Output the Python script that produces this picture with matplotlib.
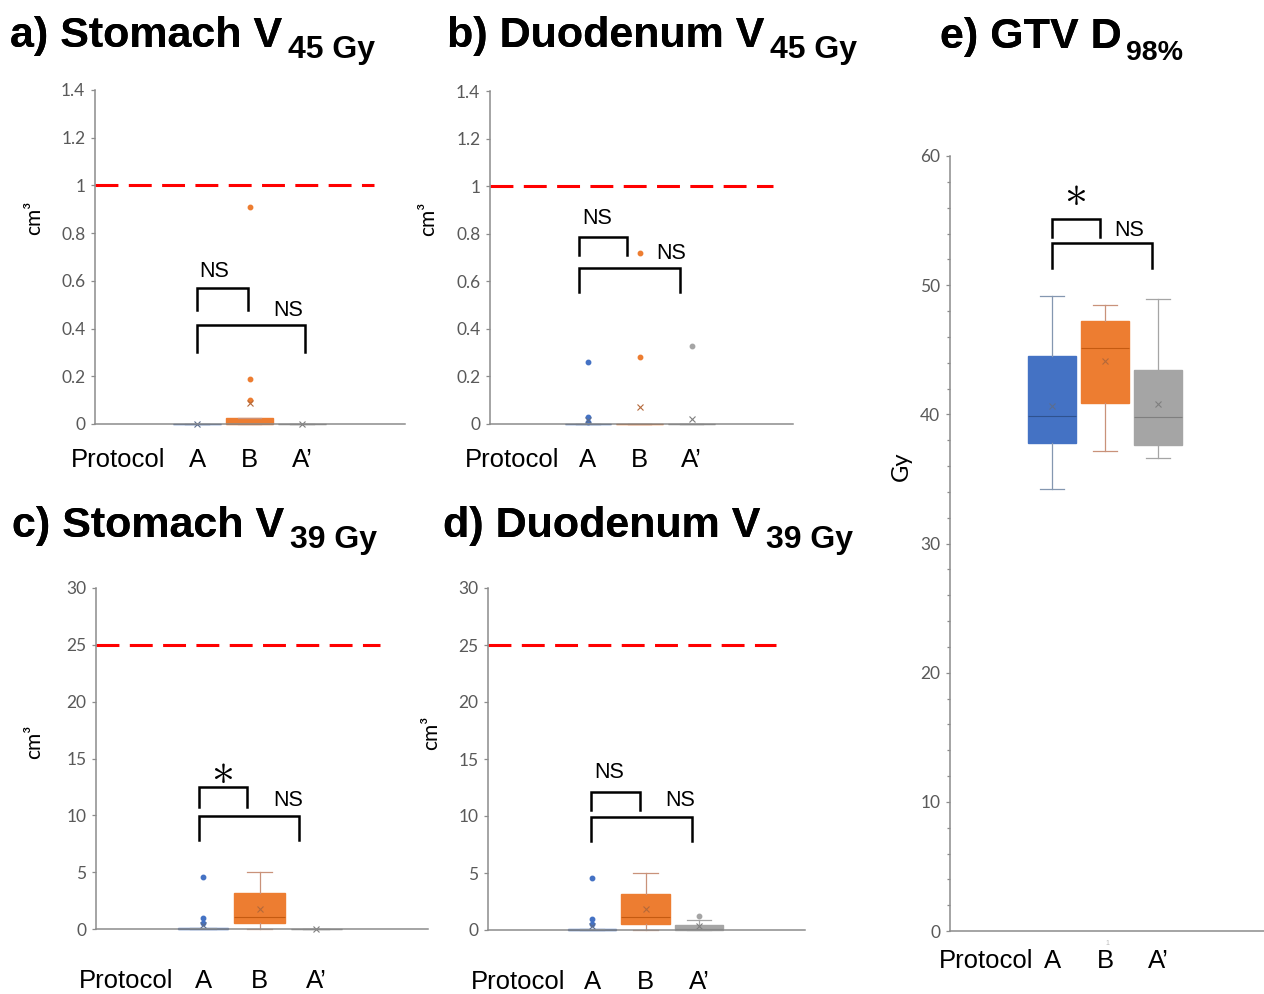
import matplotlib.pyplot as plt
from matplotlib.ticker import FuncFormatter, MultipleLocator

plt.rcParams["font.family"] = ["Liberation Sans", "DejaVu Sans"]

groups = ["A", "B", "A\u2019"]
box_colors = ["#4472C4", "#ED7D31", "#A5A5A5"]
whisker_colors = ["#8497B0", "#C9927A", "#A5A5A5"]
median_colors = ["#2F528F", "#C55A11", "#7F7F7F"]
mean_colors = ["#5B6D8E", "#B4693A", "#7F7F7F"]

# a) Stomach V45Gy (cm3)
a_lo = [0, 0, 0]
a_q1 = [0, 0, 0]
a_med = [0, 0, 0]
a_q3 = [0, 0.026, 0]
a_hi = [0, 0.026, 0]
a_mean = [0, 0.087, 0]
a_out = [[], [0.10, 0.19, 0.91], []]

# b) Duodenum V45Gy (cm3)
b_lo = [0, 0, 0]
b_q1 = [0, 0, 0]
b_med = [0, 0, 0]
b_q3 = [0, 0, 0]
b_hi = [0, 0, 0]
b_mean = [0.018, 0.071, 0.022]
b_out = [[0.008, 0.028, 0.26], [0.28, 0.72], [0.33]]

# c) Stomach V39Gy (cm3)
c_lo = [0, 0, 0]
c_q1 = [0, 0.5, 0]
c_med = [0, 1.07, 0]
c_q3 = [0.1, 3.2, 0]
c_hi = [0.1, 5.05, 0]
c_mean = [0.35, 1.8, 0]
c_out = [[0.55, 0.95, 4.57], [], []]

# d) Duodenum V39Gy (cm3)
d_lo = [0, 0, 0]
d_q1 = [0, 0.49, 0]
d_med = [0, 1.1, 0.1]
d_q3 = [0.1, 3.19, 0.45]
d_hi = [0.1, 5.0, 0.88]
d_mean = [0.35, 1.8, 0.35]
d_out = [[0.5, 0.93, 4.58], [], [1.25]]

# e) GTV D98% (Gy)
e_lo = [34.2, 37.2, 36.6]
e_q1 = [37.8, 40.9, 37.6]
e_med = [39.9, 45.1, 39.8]
e_q3 = [44.5, 47.2, 43.4]
e_hi = [49.2, 48.5, 48.9]
e_mean = [40.65, 44.1, 40.8]
e_out = [[], [], []]

# dose constraint (red dashed line) for panels a-d
limits = [1, 1, 25, 25]

# significance brackets: (left, right, top, leg end, label, label x, label y)
a_brackets = [(1.0, 1.97, 0.568, 0.477, "NS", 1.32, 0.64),
              (1.0, 3.06, 0.417, 0.30, "NS", 2.73, 0.474)]
b_brackets = [(0.83, 1.76, 0.786, 0.71, "NS", 1.17, 0.864),
              (0.83, 2.78, 0.655, 0.553, "NS", 2.6, 0.716)]
c_brackets = [(0.92, 1.77, 12.46, 10.77, "*", 1.33, 13.9),
              (0.92, 2.70, 9.96, 7.83, "NS", 2.5, 11.27)]
d_brackets = [(0.98, 1.90, 12.1, 10.5, "NS", 1.33, 13.84),
              (0.98, 2.86, 9.93, 7.82, "NS", 2.64, 11.36)]
e_brackets = [(1.0, 1.91, 55.15, 53.7, "*", 1.43, 57.1),
              (1.0, 2.89, 53.27, 51.3, "NS", 2.45, 54.25)]


def make_stats(lo, q1, med, q3, hi, mean, out):
    return [dict(whislo=lo[i], q1=q1[i], med=med[i], q3=q3[i], whishi=hi[i],
                 mean=mean[i], fliers=out[i]) for i in range(3)]


def draw_panel(ax, stats, brackets, ylim, ystep, xlim, ylabel, label_xy,
               proto_x, xpad, limit=None, limit_end=None, minor=None):
    art = ax.bxp(stats, positions=[1, 2, 3], widths=0.9, patch_artist=True,
                 showmeans=True, manage_ticks=False)
    for i in range(3):
        art["boxes"][i].set(facecolor=box_colors[i], edgecolor=box_colors[i], linewidth=1.0)
        art["medians"][i].set(color=median_colors[i], linewidth=0.8)
        for ln in art["whiskers"][2 * i:2 * i + 2] + art["caps"][2 * i:2 * i + 2]:
            ln.set(color=whisker_colors[i], linewidth=0.9)
        art["means"][i].set(marker="x", markersize=5, markeredgewidth=0.8,
                            markeredgecolor=mean_colors[i], markerfacecolor="none")
        art["fliers"][i].set(marker="o", markersize=3.2, markerfacecolor=box_colors[i],
                             markeredgecolor=box_colors[i], linestyle="none")
    for group in art.values():
        for a in group:
            a.set_clip_on(False)

    if limit is not None:
        ax.plot([xlim[0], limit_end], [limit, limit], color="#FF0000", linewidth=2.2,
                dashes=(7.5, 3.4), clip_on=False)

    for x1, x2, yt, yl, text, tx, ty in brackets:
        ax.plot([x1, x1, x2, x2], [yl, yt, yt, yl], color="black", linewidth=1.8,
                solid_joinstyle="miter", clip_on=False)
        if text == "*":
            ax.text(tx, ty, r"$\ast$", ha="center", va="center", fontsize=33,
                    math_fontfamily="cm")
        else:
            ax.text(tx, ty, text, ha="center", va="center", fontsize=15.5)

    ax.set_xlim(*xlim)
    ax.set_ylim(*ylim)
    ax.yaxis.set_major_locator(MultipleLocator(ystep))
    ax.yaxis.set_major_formatter(FuncFormatter(lambda v, p: f"{round(v, 2):g}"))
    if minor:
        ax.yaxis.set_minor_locator(MultipleLocator(minor))
        ax.tick_params(axis="y", which="minor", length=2, width=0.9, color="#8C8C8C")
    ax.tick_params(axis="y", which="major", length=3, width=0.9, color="#8C8C8C",
                   labelsize=12.5, labelcolor="#595959", pad=4)
    for lab in ax.get_yticklabels():
        lab.set_family(["Lato", "DejaVu Sans"])

    ax.set_xticks([1, 2, 3])
    ax.set_xticklabels(groups, fontsize=18.5, color="black")
    ax.tick_params(axis="x", length=0, pad=xpad)
    ax.annotate("Protocol", xy=(proto_x, 0), xycoords=("data", "axes fraction"),
                xytext=(0, -xpad), textcoords="offset points", ha="right", va="top",
                fontsize=18.5)

    ax.set_ylabel(ylabel, fontsize=15, family=["Lato", "DejaVu Sans"])
    ax.yaxis.set_label_coords(*label_xy)

    for side in ["top", "right"]:
        ax.spines[side].set_visible(False)
    for side in ["left", "bottom"]:
        ax.spines[side].set_color("#8C8C8C")
        ax.spines[side].set_linewidth(1.1)


fig = plt.figure(figsize=(12.64, 9.94), dpi=100)
W, H = 1264, 994


def add_axes(left, right, top, bottom):
    return fig.add_axes([left / W, 1 - bottom / H, (right - left) / W, (bottom - top) / H])


ax_a = add_axes(95, 405, 90, 424)
ax_b = add_axes(490, 793, 91, 424)
ax_c = add_axes(96, 428, 588, 929)
ax_d = add_axes(488, 805, 588, 930)
ax_e = add_axes(950, 1264, 156, 931)

draw_panel(ax_a, make_stats(a_lo, a_q1, a_med, a_q3, a_hi, a_mean, a_out), a_brackets,
           (0, 1.4), 0.2, (-0.943, 4.96), "cm\u00b3", (-0.165, 0.617), 0.39, 17,
           limit=limits[0], limit_end=4.37)
draw_panel(ax_b, make_stats(b_lo, b_q1, b_med, b_q3, b_hi, b_mean, b_out), b_brackets,
           (0, 1.4), 0.2, (-0.885, 4.95), "cm\u00b3", (-0.17, 0.617), 0.46, 17.5,
           limit=limits[1], limit_end=4.56)
draw_panel(ax_c, make_stats(c_lo, c_q1, c_med, c_q3, c_hi, c_mean, c_out), c_brackets,
           (0, 30), 5, (-0.894, 4.98), "cm\u00b3", (-0.157, 0.548), 0.47, 29,
           limit=limits[2], limit_end=4.13)
draw_panel(ax_d, make_stats(d_lo, d_q1, d_med, d_q3, d_hi, d_mean, d_out), d_brackets,
           (0, 30), 5, (-0.944, 4.98), "cm\u00b3", (-0.148, 0.576), 0.51, 29,
           limit=limits[3], limit_end=4.44)
draw_panel(ax_e, make_stats(e_lo, e_q1, e_med, e_q3, e_hi, e_mean, e_out), e_brackets,
           (0, 60), 10, (-0.925, 5.0), "Gy", (-0.121, 0.6), 0.64, 13, minor=2)
ax_e.yaxis.label.set_fontsize(17)

# panel titles: main text, left x, baseline y (px), subscript, its offset (pt), size
titles = [("a) Stomach V", 10, 47, "45 Gy", (4, -1.5), 23),
          ("b) Duodenum V", 447, 47, "45 Gy", (4, -1.5), 23),
          ("c) Stomach V", 12, 537, "39 Gy", (4, -1.5), 23),
          ("d) Duodenum V", 443, 537, "39 Gy", (4, -1.5), 23),
          ("e) GTV D", 940, 48, "98%", (3, -2), 20.5)]
for main, x, y, sub, offset, sub_size in titles:
    t = fig.text(x / W, 1 - y / H, main, fontsize=31, fontweight="bold", va="baseline")
    fig.add_artist(t)
    fig.get_axes()[0].annotate(sub, xy=(1, 0), xycoords=t, xytext=offset,
                               textcoords="offset points", fontsize=sub_size,
                               fontweight="bold", va="baseline", ha="left",
                               annotation_clip=False)

fig.text(1107 / W, 1 - 945 / H, "1", fontsize=5, color="#BBBBBB", ha="center")

plt.savefig("out.png", dpi=100, facecolor="white")
